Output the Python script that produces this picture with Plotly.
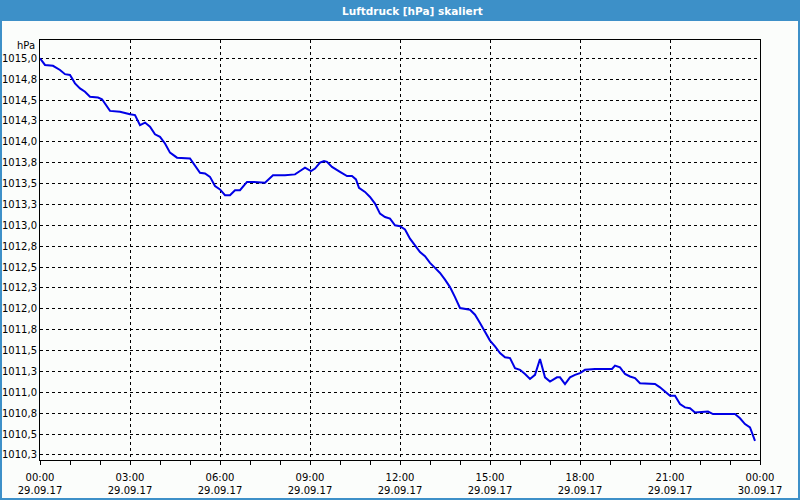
import plotly.graph_objects as go

# ---- data ----
times = [
    "00:00", "00:10", "00:26", "00:40", "00:50", "01:00", "01:10", "01:20", "01:30", "01:40",
    "01:56", "02:04", "02:20", "02:40", "03:00", "03:10", "03:20", "03:30", "03:40", "03:50",
    "04:00", "04:10", "04:20", "04:34", "05:00", "05:10", "05:20", "05:30", "05:40", "05:50",
    "06:00", "06:10", "06:20", "06:30", "06:40", "06:54", "07:06", "07:30", "07:46", "08:10",
    "08:30", "08:40", "08:50", "09:02", "09:10", "09:20", "09:28", "09:34", "09:44", "10:00",
    "10:14", "10:24", "10:32", "10:38", "10:50", "11:00", "11:10", "11:20", "11:30", "11:40",
    "11:50", "12:00", "12:10", "12:20", "12:30", "12:40", "12:50", "13:00", "13:10", "13:20",
    "13:30", "13:40", "13:50", "14:00", "14:20", "14:30", "14:40", "14:50", "15:00", "15:10",
    "15:20", "15:30", "15:40", "15:50", "16:00", "16:10", "16:20", "16:30", "16:40", "16:50",
    "17:00", "17:14", "17:20", "17:30", "17:40", "17:50", "18:00", "18:10", "18:30", "19:04",
    "19:10", "19:20", "19:30", "19:40", "19:50", "20:00", "20:30", "20:40", "20:50", "21:00",
    "21:10", "21:20", "21:30", "21:40", "21:50", "22:16", "22:26", "23:10", "23:20", "23:30",
    "23:40", "23:50",
]
pressure = [
    1015.00, 1014.92, 1014.91, 1014.86, 1014.81, 1014.80, 1014.70, 1014.64, 1014.60, 1014.54,
    1014.53, 1014.51, 1014.37, 1014.36, 1014.33, 1014.32, 1014.20, 1014.23, 1014.18, 1014.09,
    1014.06, 1013.98, 1013.87, 1013.81, 1013.80, 1013.71, 1013.63, 1013.62, 1013.58, 1013.47,
    1013.43, 1013.36, 1013.36, 1013.42, 1013.42, 1013.52, 1013.52, 1013.51, 1013.60, 1013.60,
    1013.61, 1013.65, 1013.69, 1013.65, 1013.68, 1013.75, 1013.77, 1013.76, 1013.70, 1013.64,
    1013.59, 1013.59, 1013.55, 1013.45, 1013.40, 1013.34, 1013.26, 1013.14, 1013.10, 1013.08,
    1013.00, 1012.99, 1012.95, 1012.84, 1012.76, 1012.68, 1012.63, 1012.55, 1012.49, 1012.43,
    1012.35, 1012.26, 1012.14, 1012.01, 1011.99, 1011.93, 1011.83, 1011.73, 1011.62, 1011.55,
    1011.47, 1011.42, 1011.41, 1011.29, 1011.27, 1011.22, 1011.16, 1011.21, 1011.40, 1011.18,
    1011.13, 1011.18, 1011.18, 1011.10, 1011.18, 1011.21, 1011.23, 1011.27, 1011.28, 1011.28,
    1011.32, 1011.30, 1011.22, 1011.19, 1011.17, 1011.11, 1011.10, 1011.06, 1011.01, 1010.96,
    1010.96, 1010.86, 1010.82, 1010.81, 1010.76, 1010.77, 1010.74, 1010.74, 1010.69, 1010.62,
    1010.58, 1010.42,
]
day = "2017-09-29"

y_tick_values = [1015.0, 1014.75, 1014.5, 1014.25, 1014.0, 1013.75, 1013.5, 1013.25, 1013.0,
                 1012.75, 1012.5, 1012.25, 1012.0, 1011.75, 1011.5, 1011.25, 1011.0, 1010.75,
                 1010.5, 1010.25]
y_tick_labels = ["1015,0", "1014,8", "1014,5", "1014,3", "1014,0", "1013,8", "1013,5", "1013,3",
                 "1013,0", "1012,8", "1012,5", "1012,3", "1012,0", "1011,8", "1011,5", "1011,3",
                 "1011,0", "1010,8", "1010,5", "1010,3"]
x_tick_values = ["2017-09-29 00:00", "2017-09-29 03:00", "2017-09-29 06:00", "2017-09-29 09:00",
                 "2017-09-29 12:00", "2017-09-29 15:00", "2017-09-29 18:00", "2017-09-29 21:00",
                 "2017-09-30 00:00"]
x_tick_labels = ["00:00<br>29.09.17", "03:00<br>29.09.17", "06:00<br>29.09.17",
                 "09:00<br>29.09.17", "12:00<br>29.09.17", "15:00<br>29.09.17",
                 "18:00<br>29.09.17", "21:00<br>29.09.17", "00:00<br>30.09.17"]
title_text = "Luftdruck [hPa] skaliert"
unit_text = "hPa"

# ---- figure ----
W, H = 800, 500
L, R, T, B = 40, 40, 40, 40
PW, PH = W - L - R, H - T - B


def px(xp):
    return (xp - L) / PW


def py(yp):
    return (H - B - yp) / PH


bg = "#fbfdfb"
bar = "#3d90c8"
font = "Tahoma, DejaVu Sans, sans-serif"

fig = go.Figure()
fig.add_trace(go.Scatter(
    x=[f"{day} {t}" for t in times], y=pressure, mode="lines",
    line=dict(color="#0000e6", width=2), hoverinfo="skip", showlegend=False,
))

fig.update_layout(
    width=W, height=H, autosize=False,
    margin=dict(l=L, r=R, t=T, b=B, pad=0),
    paper_bgcolor=bg, plot_bgcolor=bg,
    font=dict(family=font, size=10, color="black"),
    showlegend=False,
)
fig.update_xaxes(
    type="date", range=["2017-09-29 00:00", "2017-09-30 00:00"], automargin=False,
    tickmode="array", tickvals=x_tick_values, ticktext=x_tick_labels,
    ticks="outside", ticklen=4, tickcolor="black", tickwidth=1, ticklabelstandoff=4,
    minor=dict(dtick=3600000, ticks="outside", ticklen=4, tickcolor="black", showgrid=False),
    showgrid=True, gridcolor="black", gridwidth=1, griddash="3px,3px",
    showline=True, linecolor="black", linewidth=1, mirror=True,
    zeroline=False, tickfont=dict(family=font, size=10, color="black"),
)
fig.update_yaxes(
    range=[1010.190, 1015.219], automargin=False,
    tickmode="array", tickvals=y_tick_values, ticktext=y_tick_labels,
    ticks="", showgrid=True, gridcolor="black", gridwidth=1, griddash="3px,3px",
    showline=True, linecolor="black", linewidth=1, mirror=True,
    zeroline=False, tickfont=dict(family=font, size=10, color="black"),
)

shapes = [
    # title bar
    dict(type="rect", xref="paper", yref="paper", x0=px(0), x1=px(W), y0=py(21), y1=py(0),
         fillcolor=bar, line=dict(width=0), layer="below"),
    # outer border
    dict(type="rect", xref="paper", yref="paper", x0=px(1), x1=px(W - 1), y0=py(H - 1), y1=py(1),
         line=dict(color=bar, width=2), fillcolor="rgba(0,0,0,0)", layer="above"),
]
fig.update_layout(shapes=shapes)

fig.add_annotation(text=f"<b>{title_text}</b>", xref="paper", yref="paper",
                   x=px(412), y=py(10.5), xanchor="center", yanchor="middle",
                   showarrow=False, font=dict(family=font, size=10.5, color="white"))
fig.add_annotation(text=unit_text, xref="paper", yref="paper",
                   x=px(37), y=py(46), xanchor="right", yanchor="middle",
                   showarrow=False, font=dict(family=font, size=10, color="black"))

fig.write_html("out.html")
